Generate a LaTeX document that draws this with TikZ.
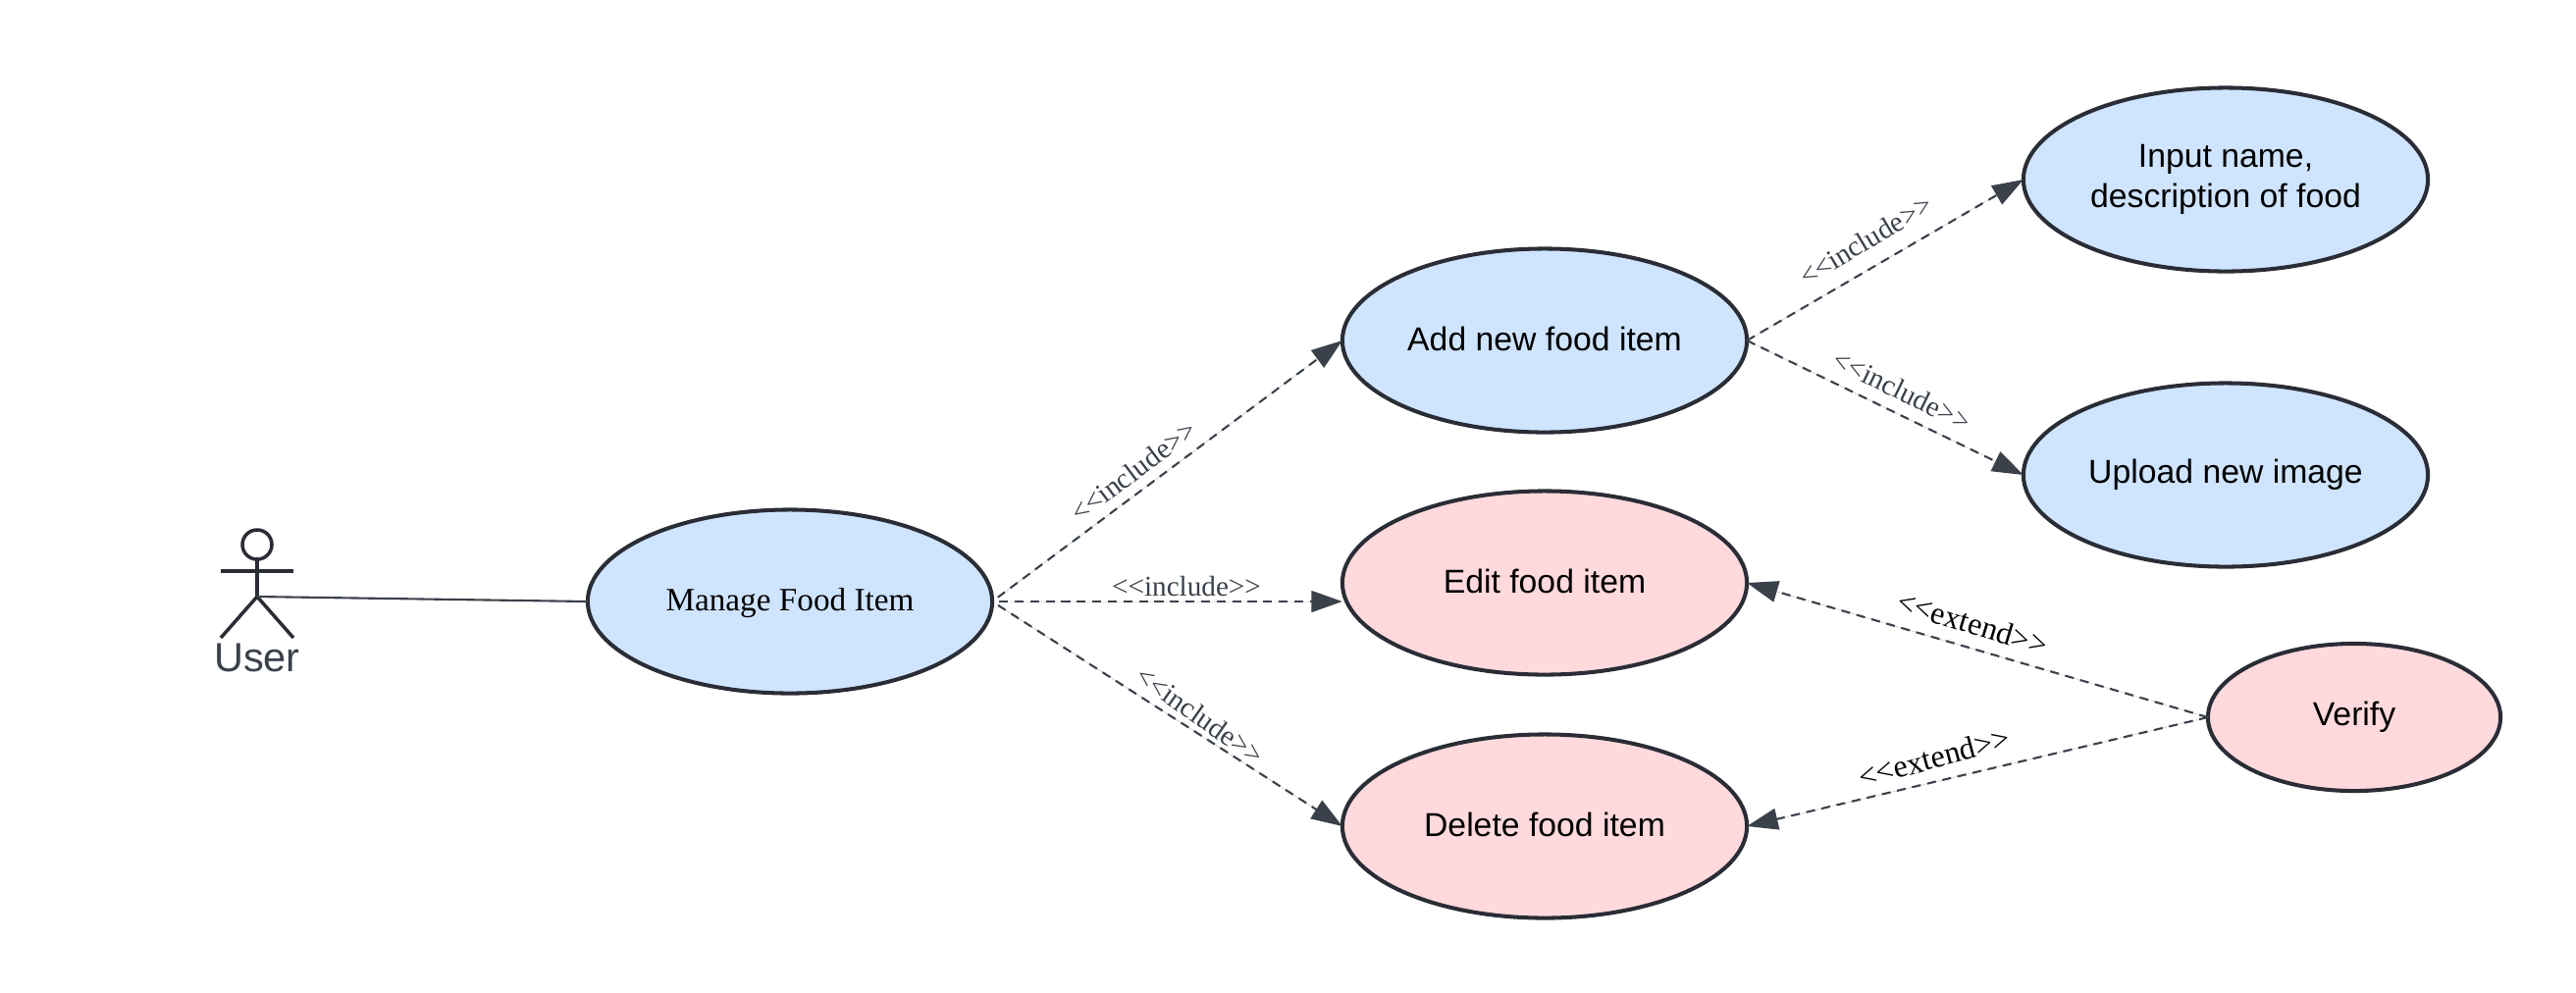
\documentclass[tikz,border=0pt]{standalone}
\usepackage{fontspec}
\setmainfont{Liberation Sans}
\newfontfamily\labelfont{Liberation Serif}
\usepackage{tikz}
\usetikzlibrary{arrows.meta, shapes.geometric}
\definecolor{inkdark}{HTML}{2A2D35}
\definecolor{inkgray}{HTML}{3A414A}
\definecolor{usecaseblue}{HTML}{CFE4FF}
\definecolor{usecasered}{HTML}{FFD9DC}
\tikzset{
    usecase/.style = {ellipse, draw=inkdark, line width=1.15pt, inner sep=0pt, outer sep=0pt, minimum width=4.12cm, minimum height=1.87cm, align=center, font=\fontsize{9.6}{11.5}\selectfont},
    dep/.style = {draw=inkgray, line width=0.6pt, dash pattern=on 2.6pt off 1.9pt, -{Triangle[length=9pt,width=6.2pt]}, fill=inkgray},
    deplabel/.style = {font=\labelfont\fontsize{8.3}{10}\selectfont, text=inkgray, inner sep=0pt},
    extlabel/.style = {font=\labelfont\fontsize{9.15}{11}\selectfont, text=black, inner sep=0pt},
    actorline/.style = {draw=inkdark, line width=1pt},
}
\begin{document}
\begin{tikzpicture}[x=0.01cm, y=-0.01cm]
    \useasboundingbox (0,0) rectangle (2625,1011);

    % actor
    \node [circle, draw=inkdark, line width=1pt, minimum size=0.3cm, inner sep=0pt, outer sep=0pt] (head) at (262,555) {};
    \coordinate (hip) at (262,608);
    \coordinate (armL) at (225,582);
    \coordinate (armR) at (299,582);
    \coordinate (footL) at (225,650);
    \coordinate (footR) at (299,650);
    \draw [actorline] (head) -- (hip);
    \draw [actorline] (armL) -- (armR);
    \draw [actorline] (footL) -- (hip) -- (footR);
    \node [text=inkgray, font=\fontsize{11.8}{14}\selectfont, inner sep=0pt] (user) at (262,670) {User};

    % use cases
    \node [usecase, fill=usecaseblue, font=\labelfont\fontsize{9.45}{12}\selectfont] (manage) at (805,613) {\raisebox{-0.6pt}[6pt][2pt]{Manage Food Item}};
    \node [usecase, fill=usecaseblue] (add) at (1574,347) {\raisebox{1pt}{Add new food item}};
    \node [usecase, fill=usecasered] (edit) at (1574,594) {\raisebox{1pt}{Edit food item}};
    \node [usecase, fill=usecasered] (delete) at (1574,842) {\raisebox{1pt}{Delete food item}};
    \node [usecase, fill=usecaseblue] (input) at (2268,183) {Input name,\\description of food};
    \node [usecase, fill=usecaseblue] (upload) at (2268,484) {Upload new image};
    \node [usecase, fill=usecasered, minimum width=2.98cm, minimum height=1.5cm] (verify) at (2399,731) {Verify};

    % connectors
    \draw [draw=inkgray, line width=0.6pt] (hip) -- (manage.west);
    \draw [dep, shorten <=2pt] (manage.east) -- (add.west);
    \draw [dep, shorten <=2pt] (manage.east) -- (manage.east -| edit.west);
    \draw [dep, shorten <=2pt] (manage.east) -- (delete.west);
    \draw [dep] (add.east) -- (input.west);
    \draw [dep] (add.east) -- (upload.west);
    \draw [dep] (verify.west) -- (edit.east);
    \draw [dep] (verify.west) -- (delete.east);

    % labels
    \node [deplabel, rotate=37] (inc1) at (1155,480) {<<include>>};
    \node [deplabel] (inc2) at (1209,597) {<<include>>};
    \node [deplabel, rotate=-35] (inc3) at (1223,729) {<<include>>};
    \node [deplabel, rotate=31] (inc4) at (1901,245) {<<include>>};
    \node [deplabel, rotate=-26] (inc5) at (1938,398) {<<include>>};
    \node [extlabel, rotate=-17] (ext1) at (2010,635) {<<extend>>};
    \node [extlabel, rotate=15] (ext2) at (1971,772) {<<extend>>};
\end{tikzpicture}
\end{document}
